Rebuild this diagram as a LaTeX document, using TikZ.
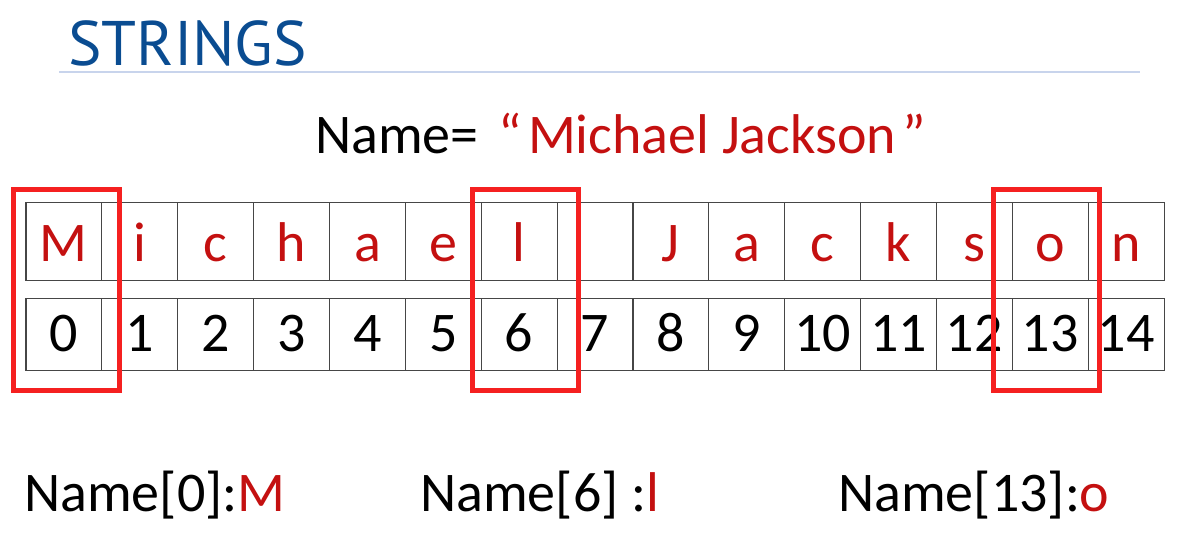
\documentclass[tikz,border=0pt]{standalone}
\usepackage{fontspec}
\setmainfont{Carlito}
\newfontfamily\titlefont{PT Sans}
\usepackage{xcolor}
\usetikzlibrary{positioning}

\definecolor{titleblue}{RGB}{10,76,145}
\definecolor{ruleblue}{RGB}{200,212,236}
\definecolor{slred}{RGB}{196,16,16}
\definecolor{boxred}{RGB}{245,32,32}
\definecolor{gridgray}{RGB}{70,70,70}
\newcommand{\slidefont}{\fontsize{56}{62}\selectfont}

\begin{document}
\begin{tikzpicture}[x=1pt, y=-1pt,
    charcell/.style={rectangle, draw=gridgray, line width=1.1pt, minimum width=75.87pt, inner sep=0pt, outer sep=0pt, text height=59pt, text depth=19pt, font=\slidefont, text=slred},
    idxcell/.style={rectangle, draw=gridgray, line width=1.1pt, minimum width=75.87pt, inner sep=0pt, outer sep=0pt, text height=53.4pt, text depth=19pt, font=\slidefont},
    hlbox/.style={rectangle, draw=boxred, line width=5pt, minimum width=106.2pt, minimum height=200.3pt, inner sep=0pt},
    caption/.style={anchor=base west, inner sep=0pt, font=\slidefont},
    ruleline/.style={draw=ruleblue, line width=2pt}
]
\useasboundingbox (0,0) rectangle (1194,541);

% title
\node[anchor=base west, inner sep=0pt, font=\titlefont\fontsize{63}{70}\selectfont, text=titleblue] (title) at (68,65) {STRINGS};
\coordinate (rule l) at (59,72.3);
\coordinate (rule r) at (1140,72.3);
\draw[ruleline] (rule l) -- (rule r);

% the string
\node[caption] (name) at (315,153.3) {Name=\hspace{20pt}\textcolor{slred}{“\hspace{6pt}Michael Jackson\hspace{6pt}”}};

% characters and their indexes
\foreach \ch [count=\i from 0] in {M,i,c,h,a,e,l,{},J,a,c,k,s,o,n}
    \node[charcell] (char\i) at ({63.93+75.87*\i},241.7) {\ch};
\foreach \i in {0,...,14}
    \node[idxcell] (idx\i) at ({63.93+75.87*\i},334.5) {\i};

% highlighted positions
\node[hlbox] (hl0) at (66.6,289.9) {};
\node[hlbox] (hl6) at (525.3,289.9) {};
\node[hlbox] (hl13) at (1046.7,289.9) {};

% indexing results
\node[caption] (res0) at (24,511.7) {Name[0]:\textcolor{slred}{M}};
\node[caption] (res6) at (420,511.7) {Name[6] :\textcolor{slred}{l}};
\node[caption] (res13) at (838,511.7) {Name[13]:\textcolor{slred}{o}};

\end{tikzpicture}
\end{document}
